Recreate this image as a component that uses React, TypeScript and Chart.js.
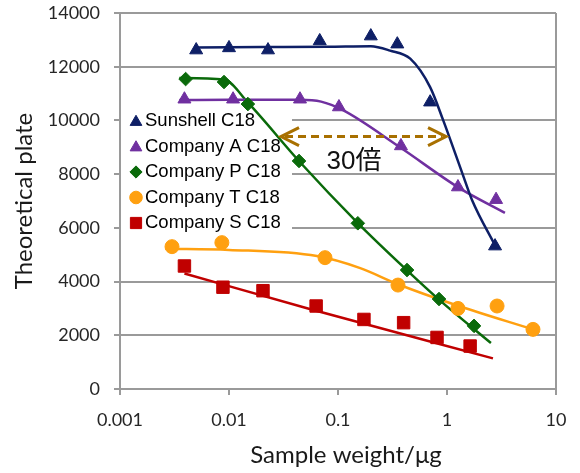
import React, { useEffect, useRef } from 'react';
import { Chart, registerables } from 'chart.js';
import { drawPoint } from 'chart.js/helpers';

Chart.register(...registerables);

// ---- data ----
const seriesNames = ['Sunshell C18', 'Company A C18', 'Company P C18', 'Company T C18', 'Company S C18'];
const seriesColors = ['#0E1F66', '#7030A0', '#0A6A0A', '#FFA010', '#C00000'];
const seriesMarkers = ['triangle', 'triangle', 'rectRot', 'circle', 'rect'];
const markerRadius = [7.5, 7.5, 6.8, 7, 8.8];

const sunshellX = [0.005, 0.01, 0.0228, 0.068, 0.2, 0.35, 0.7, 2.76];
const sunshellY = [12620, 12700, 12620, 12960, 13140, 12840, 10680, 5320];
const companyAX = [0.0039, 0.0109, 0.0448, 0.102, 0.378, 1.26, 2.82];
const companyAY = [10790, 10790, 10790, 10500, 9050, 7520, 7050];
const companyPX = [0.004, 0.009, 0.0149, 0.0439, 0.152, 0.43, 0.845, 1.77];
const companyPY = [11540, 11430, 10610, 8490, 6170, 4430, 3350, 2350];
const companyTX = [0.003, 0.0086, 0.076, 0.355, 1.26, 2.88, 6.15];
const companyTY = [5300, 5450, 4890, 3870, 3000, 3090, 2220];
const companySX = [0.0039, 0.0088, 0.0205, 0.063, 0.173, 0.4, 0.81, 1.63];
const companySY = [4580, 3790, 3660, 3090, 2590, 2470, 1920, 1600];

// fitted trend curves
const sunshellFitX = [0.005, 0.02, 0.08, 0.2, 0.3, 0.46, 0.7, 0.92, 1.38, 1.7, 2.8];
const sunshellFitY = [12720, 12730, 12740, 12760, 12600, 12300, 11240, 10020, 8040, 7030, 5300];
const companyAFitX = [0.0035, 0.01, 0.045, 0.07, 0.11, 0.37, 1.3, 3.4];
const companyAFitY = [10760, 10770, 10770, 10700, 10390, 9000, 7480, 6560];
const companyPFitX = [0.0035, 0.009, 0.015, 0.044, 0.152, 0.43, 0.845, 2.53];
const companyPFitY = [11580, 11520, 10650, 8480, 6180, 4420, 3330, 1710];
const companyTFitX = [0.0026, 0.01, 0.064, 0.16, 0.355, 1.26, 6.15];
const companyTFitY = [5220, 5180, 4950, 4500, 3900, 3100, 2220];
const companySFitX = [0.0039, 0.055, 2.64];
const companySFitY = [4300, 2980, 1140];

const xTickValues = [0.001, 0.01, 0.1, 1, 10];
const xTickLabels = ['0.001', '0.01', '0.1', '1', '10'];
const yTickStep = 2000;
const yMin = 0;
const yMax = 14000;

const xTitle = 'Sample weight/μg';
const yTitle = 'Theoretical plate';

// annotation: 30x arrow
const arrowFromX = 0.03;
const arrowToX = 0.98;
const arrowY = 9400;
const arrowLabel = '30倍';
const arrowLabelX = 0.14;
const arrowLabelY = 8450;

const pointsX = [sunshellX, companyAX, companyPX, companyTX, companySX];
const pointsY = [sunshellY, companyAY, companyPY, companyTY, companySY];
const fitsX = [sunshellFitX, companyAFitX, companyPFitX, companyTFitX, companySFitX];
const fitsY = [sunshellFitY, companyAFitY, companyPFitY, companyTFitY, companySFitY];

const GRID = '#9a9a9a';
const TICK_FONT = 'Lato, "Open Sans", sans-serif';

const zip = (xs: number[], ys: number[]) => xs.map((x, i) => ({ x, y: ys[i] }));

const overlay = {
  id: 'overlay',
  beforeDatasetsDraw(chart: any) {
    const { ctx, chartArea: ca } = chart;
    ctx.save();
    // right frame
    ctx.strokeStyle = GRID;
    ctx.lineWidth = 2;
    ctx.beginPath();
    ctx.moveTo(ca.right, ca.top);
    ctx.lineTo(ca.right, ca.bottom);
    ctx.stroke();
    // legend box
    const lx = ca.left + 1;
    const ly = 106;
    ctx.fillStyle = '#ffffff';
    ctx.fillRect(lx, ly, 171, 130);
    ctx.font = '18.5px "Liberation Sans", Arial, sans-serif';
    ctx.textBaseline = 'middle';
    ctx.textAlign = 'left';
    seriesNames.forEach((name, i) => {
      const cy = 121 + i * 25.5;
      ctx.fillStyle = seriesColors[i];
      ctx.strokeStyle = seriesColors[i];
      ctx.lineWidth = 1;
      drawPoint(ctx, { pointStyle: seriesMarkers[i], radius: markerRadius[i] * 0.9, rotation: 0, borderWidth: 1 } as any, 136, cy + (seriesMarkers[i] === 'triangle' ? 1 : 0));
      ctx.fillStyle = '#000';
      ctx.fillText(name, 145, cy);
    });
    ctx.restore();
  },
  afterDatasetsDraw(chart: any) {
    const { ctx, scales } = chart;
    const x = scales.x, y = scales.y;
    const x0 = x.getPixelForValue(arrowFromX);
    const x1 = x.getPixelForValue(arrowToX);
    const yy = y.getPixelForValue(arrowY);
    ctx.save();
    ctx.strokeStyle = '#A87000';
    ctx.lineWidth = 3;
    ctx.setLineDash([8, 5]);
    ctx.beginPath();
    ctx.moveTo(x0 + 4, yy);
    ctx.lineTo(x1 - 4, yy);
    ctx.stroke();
    ctx.setLineDash([]);
    ctx.beginPath();
    ctx.moveTo(x0 + 18, yy - 9);
    ctx.lineTo(x0, yy);
    ctx.lineTo(x0 + 18, yy + 9);
    ctx.moveTo(x1 - 18, yy - 9);
    ctx.lineTo(x1, yy);
    ctx.lineTo(x1 - 18, yy + 9);
    ctx.stroke();
    ctx.fillStyle = '#111';
    ctx.font = '26px "Liberation Sans", "Noto Sans CJK JP", sans-serif';
    ctx.textAlign = 'center';
    ctx.textBaseline = 'middle';
    ctx.fillText(arrowLabel, x.getPixelForValue(arrowLabelX), y.getPixelForValue(arrowLabelY));
    ctx.restore();
  },
  afterDraw(chart: any) {
    const { ctx, chartArea: ca } = chart;
    ctx.save();
    ctx.fillStyle = '#1a1a1a';
    ctx.font = '24px Lato, "Open Sans", sans-serif';
    ctx.textAlign = 'center';
    ctx.textBaseline = 'middle';
    ctx.fillText(xTitle, (ca.left + ca.right) / 2 + 8, 455);
    ctx.translate(24, (ca.top + ca.bottom) / 2);
    ctx.rotate(-Math.PI / 2);
    ctx.fillText(yTitle, 0, 0);
    ctx.restore();
  },
};

export default function App() {
  const ref = useRef<HTMLCanvasElement | null>(null);
  useEffect(() => {
    if (!ref.current) return;
    const pointSets = seriesNames.map((name, i) => ({
      type: 'scatter' as const,
      label: name,
      data: zip(pointsX[i], pointsY[i]),
      showLine: false,
      pointStyle: seriesMarkers[i],
      pointRadius: markerRadius[i],
      pointBackgroundColor: seriesColors[i],
      pointBorderColor: seriesColors[i],
      pointBorderWidth: 1,
      backgroundColor: seriesColors[i],
      borderColor: seriesColors[i],
    }));
    const fitSets = seriesNames.map((name, i) => ({
      type: 'line' as const,
      label: name + ' fit',
      data: zip(fitsX[i], fitsY[i]),
      showLine: true,
      pointRadius: 0,
      borderColor: seriesColors[i],
      borderWidth: 2.5,
      cubicInterpolationMode: 'monotone' as const,
      fill: false,
    }));
    const chart = new Chart(ref.current, {
      type: 'scatter',
      data: { datasets: [...pointSets, ...fitSets] as any },
      plugins: [overlay],
      options: {
        animation: false,
        responsive: true,
        maintainAspectRatio: false,
        layout: { padding: { left: 0, top: 13, right: 24, bottom: 0 } },
        plugins: { legend: { display: false }, tooltip: { enabled: false } },
        scales: {
          x: {
            type: 'logarithmic',
            min: xTickValues[0],
            max: xTickValues[xTickValues.length - 1],
            afterBuildTicks: (s: any) => {
              s.ticks = xTickValues.map((v) => ({ value: v }));
            },
            afterFit: (s: any) => {
              s.height = 84;
              s.paddingLeft = 0;
              s.paddingRight = 0;
            },
            ticks: {
              autoSkip: false,
              maxRotation: 0,
              padding: 14,
              color: '#262626',
              font: { family: TICK_FONT, size: 18 },
              callback: (v: any) => {
                const idx = xTickValues.findIndex((t) => Math.abs(t - Number(v)) / t < 1e-6);
                return idx >= 0 ? xTickLabels[idx] : '';
              },
            },
            grid: { drawOnChartArea: false, drawTicks: true, tickLength: 6, color: GRID, lineWidth: 2 },
            border: { display: true, color: GRID, width: 2 },
          },
          y: {
            min: yMin,
            max: yMax,
            afterFit: (s: any) => {
              s.width = 120;
              s.paddingTop = 0;
              s.paddingBottom = 0;
            },
            ticks: {
              stepSize: yTickStep,
              padding: 14,
              color: '#262626',
              font: { family: TICK_FONT, size: 18 },
              callback: (v: any) => String(v),
            },
            grid: { drawOnChartArea: true, drawTicks: true, tickLength: 6, color: GRID, lineWidth: 2 },
            border: { display: true, color: GRID, width: 2 },
          },
        },
      },
    });
    return () => chart.destroy();
  }, []);
  return (
    <div style={{ position: 'fixed', left: 0, top: 0, width: 580, height: 473, background: '#fff' }}>
      <canvas ref={ref} />
    </div>
  );
}
